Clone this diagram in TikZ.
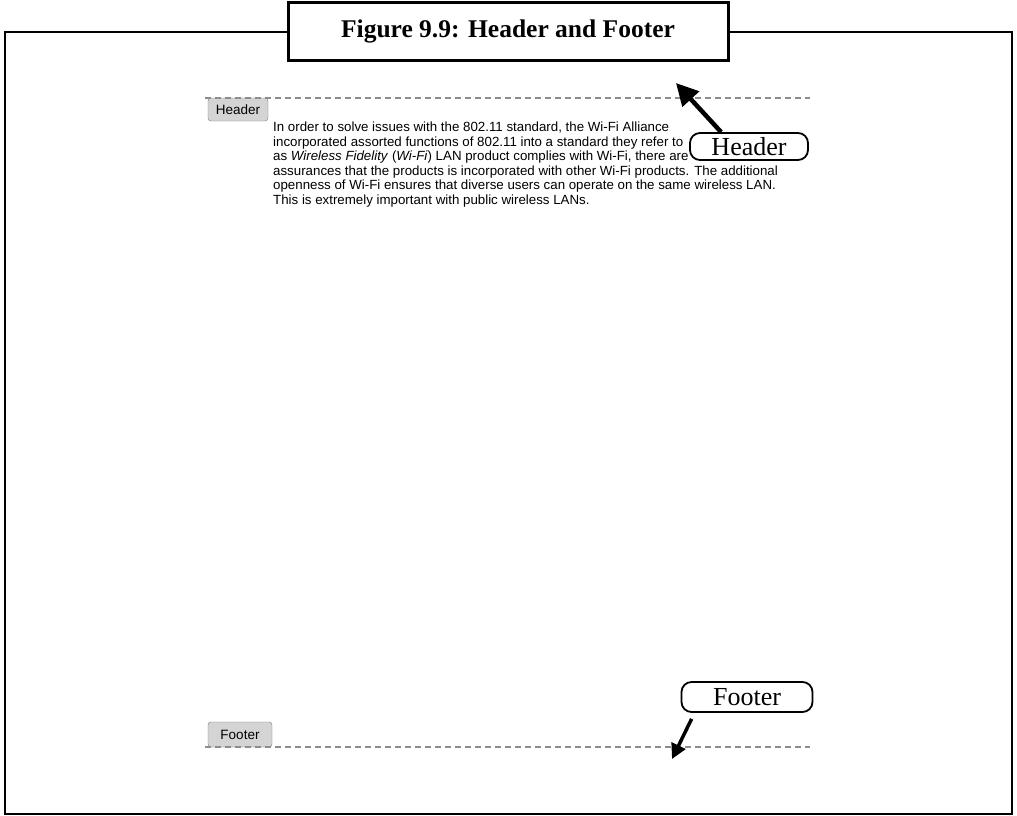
\documentclass[tikz,border=0pt]{standalone}
\usepackage{fontspec}
\setmainfont{Liberation Serif}
\newfontfamily\docfont{Liberation Sans}
\usetikzlibrary{arrows.meta,positioning}
\definecolor{rulegray}{HTML}{8C8C8C}
\definecolor{tabfill}{HTML}{D4D4D4}
\definecolor{tabedge}{HTML}{7A7A7A}

\begin{document}
\begin{tikzpicture}[x=1pt,y=-1pt,
  tabbox/.style={draw=tabedge,fill=tabfill,rounded corners=3pt,inner sep=0pt,
    font=\docfont\fontsize{13.5}{15}\selectfont},
  callout/.style={draw,fill=white,line width=1.8pt,rounded corners=10pt,inner sep=0pt,
    font=\fontsize{26}{28}\selectfont},
  guide/.style={rulegray,line width=1.8pt,dash pattern=on 6pt off 4pt},
  ptr/.style={line width=4.5pt,-{Triangle[length=22pt,width=22pt]}}]
  \useasboundingbox (0,0) rectangle (1017,815);
  % outer frame and title
  \draw[line width=2.8pt] (5,32) rectangle (1012,814);
  \node[draw,fill=white,line width=3pt,minimum width=440pt,minimum height=58pt,
    font=\bfseries\fontsize{25.5}{27}\selectfont] (title) at (508,31) {Figure 9.9: Header and Footer};
  % page area
  \node[tabbox,minimum width=60pt,minimum height=23pt] (hdrtab) at (238,109.5) {Header};
  \node[tabbox,minimum width=64pt,minimum height=25pt] (ftrtab) at (240,734.5) {Footer};
  \draw[guide] (205,98) -- (810,98);
  \draw[guide] (205,747) -- (810,747);
  \node[anchor=north west,inner sep=0pt,align=left,
    font=\docfont\fontsize{13.3}{14.5}\selectfont] (body) at (273,122)
    {In order to solve issues with the 802.11 standard, the Wi-Fi Alliance\\
     incorporated assorted functions of 802.11 into a standard they refer to\\
     as \textit{Wireless Fidelity} (\textit{Wi-Fi}) LAN product complies with Wi-Fi, there are\\
     assurances that the products is incorporated with other Wi-Fi products. The additional\\
     openness of Wi-Fi ensures that diverse users can operate on the same wireless LAN.\\
     This is extremely important with public wireless LANs.};
  % callouts
  \node[callout,minimum width=118pt,minimum height=27pt] (hdrcall) at (749,146.5) {Header};
  \node[callout,minimum width=131pt,minimum height=30pt] (ftrcall) at (747,697) {Footer};
  \coordinate (hdrtip) at (676,83);
  \coordinate (ftrtip) at (672,759);
  \draw[ptr] ([xshift=32pt]hdrcall.north west) -- (hdrtip);
  \draw[line width=3.5pt,-{Triangle[length=15pt,width=15pt]}]
    ([xshift=11pt,yshift=-6pt]ftrcall.south west) -- (ftrtip);
\end{tikzpicture}
\end{document}
